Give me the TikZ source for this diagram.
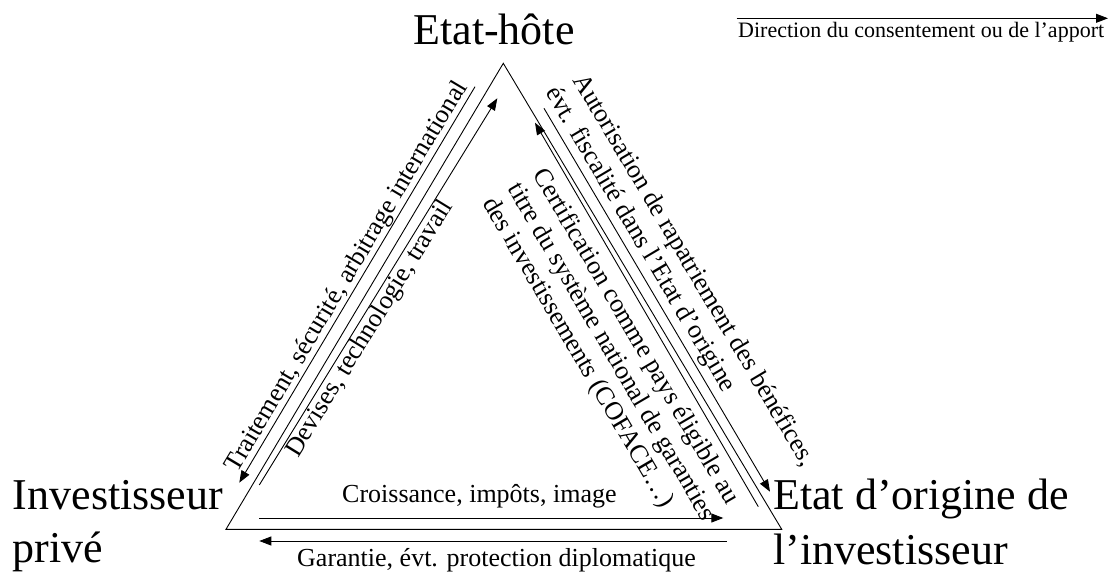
\documentclass[tikz,border=0pt]{standalone}
\usepackage{fontspec}
\setmainfont{Liberation Serif}
\usetikzlibrary{arrows.meta}
\begin{document}
\begin{tikzpicture}[x=1pt,y=-1pt,
  edge/.style={line width=0.9pt},
  flow/.style={line width=0.9pt,-{Triangle[length=12pt,width=9pt]}},
  big/.style={font=\fontsize{44}{53}\selectfont, inner sep=0pt, anchor=base west},
  lab/.style={font=\fontsize{26}{30}\selectfont, inner sep=0pt, anchor=base west},
  leg/.style={font=\fontsize{22}{26}\selectfont, inner sep=0pt, anchor=base west}]
\useasboundingbox (0,0) rectangle (1120,575);
\fill[white] (0,0) rectangle (1120,575);
% triangle
\coordinate (A) at (503.3,63.3);
\coordinate (B) at (226,529.3);
\coordinate (C) at (781.7,529.3);
\draw[edge] (A) -- (B) -- (C) -- cycle;
% arrow end points
\coordinate (P1) at (475,86.7);   \coordinate (P2) at (239.3,482.7);
\coordinate (Q1) at (497.3,98.3); \coordinate (Q2) at (259.3,485);
\coordinate (R1) at (544,108.3);  \coordinate (R2) at (770,491.7);
\coordinate (S1) at (535,122.7);  \coordinate (S2) at (758.3,506.7);
\coordinate (U1) at (259.3,518);  \coordinate (U2) at (723.3,518);
\coordinate (V1) at (726.7,541);  \coordinate (V2) at (259.3,541);
\coordinate (L1) at (736.7,18.3); \coordinate (L2) at (1108,18.3);
\draw[flow] (P1) -- (P2);
\draw[flow] (Q2) -- (Q1);
\draw[flow] (R1) -- (R2);
\draw[flow] (S2) -- (S1);
\draw[flow] (U1) -- (U2);
\draw[flow] (V1) -- (V2);
\draw[flow] (L1) -- (L2);
% corner labels
\node[big, anchor=base] (hote) at (494,45) {Etat-hôte};
\node[big] (inv1) at (12.7,509) {Investisseur};
\node[big] (inv2) at (12.7,562) {privé};
\node[big] (ori1) at (773,509.3) {Etat d’origine de};
\node[big] (ori2) at (773,564) {l’investisseur};
% legend
\node[leg] (legt) at (738,37.5) {Direction du consentement ou de l’apport};
% side labels
\node[lab, rotate=59.24] (trait) at (237.4,474.0) {Traitement, sécurité, arbitrage international};
\node[lab, rotate=58.4] (devi) at (298,458.4) {Devises, technologie, travail};
\node[lab, rotate=-59.3] (auto1) at (572.5,79.9) {Autorisation de rapatriement des bénéfices,};
\node[lab, rotate=-59.3] (auto2) at (545.1,92.5) {évt. fiscalité dans l’Etat d’origine};
\node[lab, rotate=-59.6] (cert1) at (532.4,174.0) {Certification comme pays éligible au};
\node[lab, rotate=-59.6] (cert2) at (507.3,188.6) {titre du système national de garanties};
\node[lab, rotate=-59.6] (cert3) at (482.3,203.2) {des investissements (COFACE\ldots)};
\node[lab] (crois) at (342,502) {Croissance, impôts, image};
\node[lab] (gara) at (297,566) {Garantie, évt. protection diplomatique};
\end{tikzpicture}
\end{document}
